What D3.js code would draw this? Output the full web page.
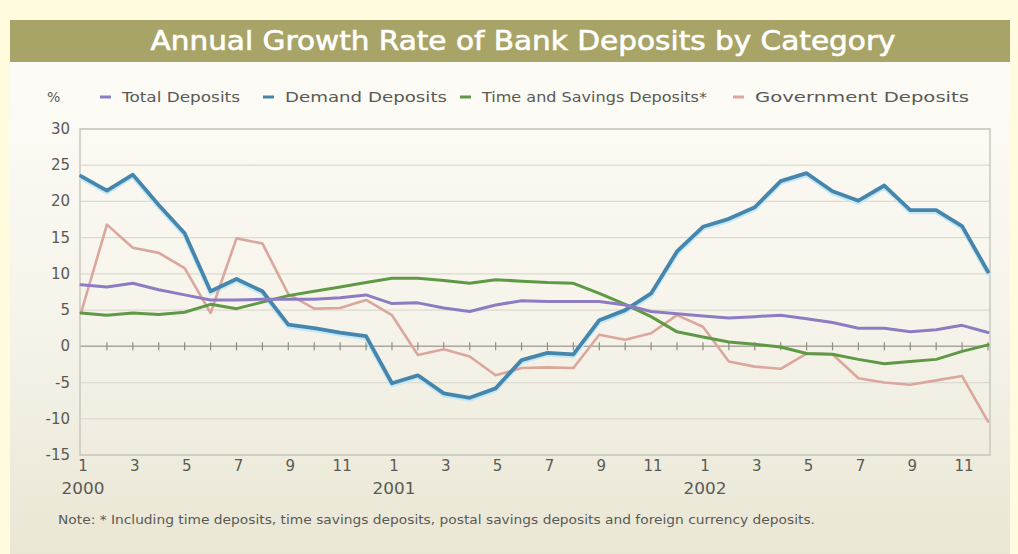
<!DOCTYPE html>
<html lang="en">
<head>
  <meta charset="UTF-8">
  <style>
    body { margin: 0; background: #fffbdf; }
    svg text { font-family: "DejaVu Sans", sans-serif; fill: #5a5a55; }
  </style>
</head>
<body>
  <svg class="chart"></svg>
  <script src="https://cdnjs.cloudflare.com/ajax/libs/d3/7.8.5/d3.min.js"></script>
  <script>
    // monthly values, Jan 2000 - Dec 2002
    const years = ['2000', '2001', '2002']
    const monthTicks = ['1', '3', '5', '7', '9', '11']

    const totalDeposits = [8.5, 8.2, 8.7, 7.8, 7.1, 6.4, 6.4, 6.5, 6.5, 6.5, 6.7, 7.1,
      5.9, 6.0, 5.3, 4.8, 5.7, 6.3, 6.2, 6.2, 6.2, 5.7, 4.8, 4.5,
      4.2, 3.9, 4.1, 4.3, 3.8, 3.3, 2.5, 2.5, 2.0, 2.3, 2.9, 1.9]
    const demandDeposits = [23.5, 21.5, 23.7, 19.5, 15.6, 7.6, 9.3, 7.6, 3.0, 2.5, 1.9, 1.4,
      -5.1, -4.0, -6.5, -7.1, -5.8, -1.9, -0.9, -1.1, 3.6, 5.0, 7.3, 13.1,
      16.5, 17.6, 19.2, 22.8, 23.9, 21.4, 20.1, 22.2, 18.8, 18.8, 16.6, 10.3]
    const timeSavingsDeposits = [4.6, 4.3, 4.6, 4.4, 4.7, 5.8, 5.2, 6.1, 7.0, 7.6, 8.2, 8.8,
      9.4, 9.4, 9.1, 8.7, 9.2, 9.0, 8.8, 8.7, 7.3, 5.8, 4.1, 2.0,
      1.3, 0.6, 0.3, -0.1, -1.0, -1.1, -1.8, -2.4, -2.1, -1.8, -0.7, 0.2]
    const governmentDeposits = [4.6, 16.8, 13.6, 12.9, 10.8, 4.6, 14.9, 14.2, 7.2, 5.2, 5.3, 6.4,
      4.3, -1.2, -0.4, -1.4, -4.0, -3.0, -2.9, -3.0, 1.6, 0.9, 1.8, 4.3,
      2.7, -2.1, -2.8, -3.1, -1.0, -1.1, -4.4, -5.0, -5.3, -4.7, -4.1, -10.4]

    const series = [
      { name: 'Total Deposits', values: totalDeposits, color: '#8e7cc3', width: 3 },
      { name: 'Demand Deposits', values: demandDeposits, color: '#4686ad', width: 3.8 },
      { name: 'Time and Savings Deposits*', values: timeSavingsDeposits, color: '#5f9945', width: 3 },
      { name: 'Government Deposits', values: governmentDeposits, color: '#dba79c', width: 2.6 }
    ]

    const months = []
    years.forEach(y => d3.range(1, 13).forEach(m => months.push(y + '-' + m)))

    const W = 1018, H = 554
    const plot = { left: 80, right: 990, top: 129, bottom: 455 }

    const svg = d3.select('.chart').attr('width', W).attr('height', H)
    const defs = svg.append('defs')

    const panelGrad = defs.append('linearGradient').attr('id', 'panel')
      .attr('x1', 0).attr('y1', 0).attr('x2', 0).attr('y2', 1)
    panelGrad.append('stop').attr('offset', '0%').attr('stop-color', '#fefdf8')
    panelGrad.append('stop').attr('offset', '60%').attr('stop-color', '#f5f3e9')
    panelGrad.append('stop').attr('offset', '100%').attr('stop-color', '#e9e6d4')

    // panel + title bar
    svg.append('rect').attr('x', 10).attr('y', 20).attr('width', 1000).attr('height', H - 20)
      .attr('fill', 'url(#panel)')
    svg.append('rect').attr('x', 10).attr('y', 20).attr('width', 1000).attr('height', 42)
      .attr('fill', '#a8a467')
    svg.append('text').attr('x', 523).attr('y', 50).attr('text-anchor', 'middle')
      .attr('textLength', 745).attr('lengthAdjust', 'spacingAndGlyphs')
      .style('fill', '#fff').style('stroke', '#fff').style('stroke-width', 0.6)
      .style('font-size', '26px')
      .text('Annual Growth Rate of Bank Deposits by Category')

    const x = d3.scalePoint().domain(months).range([81, 988])
    const y = d3.scaleLinear().domain([-15, 30]).range([plot.bottom, plot.top])

    // grid
    const yTicks = d3.range(-15, 31, 5)
    svg.append('g').selectAll('line').data(yTicks).join('line')
      .attr('x1', plot.left).attr('x2', plot.right)
      .attr('y1', d => y(d)).attr('y2', d => y(d))
      .attr('stroke', d => d === 0 ? '#a9a79c' : '#dcdad0')
      .attr('stroke-width', d => d === 0 ? 1.5 : 1.2)

    // frame
    svg.append('rect').attr('x', plot.left).attr('y', plot.top)
      .attr('width', plot.right - plot.left).attr('height', plot.bottom - plot.top)
      .attr('fill', 'none').attr('stroke', '#c9c8c0').attr('stroke-width', 1.5)

    // month ticks on zero line
    svg.append('g').selectAll('line').data(months.slice(1)).join('line')
      .attr('x1', d => x(d)).attr('x2', d => x(d))
      .attr('y1', y(0) - 4).attr('y2', y(0) + 4)
      .attr('stroke', '#8f8d84').attr('stroke-width', 1.2)

    // y axis labels
    svg.append('g').selectAll('text').data(yTicks).join('text')
      .attr('x', 70).attr('y', d => y(d) + 5).attr('text-anchor', 'end')
      .style('font-size', '15px').text(d => d)

    // x labels
    const labelled = months.filter(m => monthTicks.includes(m.split('-')[1]))
    svg.append('g').selectAll('text').data(labelled).join('text')
      .attr('x', d => x(d) + 2).attr('y', 471).attr('text-anchor', 'middle')
      .style('font-size', '15px').text(d => d.split('-')[1])
    svg.append('g').selectAll('text').data(years).join('text')
      .attr('x', d => x(d + '-1') + 2).attr('y', 494).attr('text-anchor', 'middle')
      .attr('textLength', 43).attr('lengthAdjust', 'spacingAndGlyphs')
      .style('font-size', '15px').text(d => d)

    // lines
    const line = d3.line().x((d, i) => x(months[i])).y(d => y(d))
    const lines = svg.append('g').attr('fill', 'none')
      .attr('stroke-linejoin', 'round').attr('stroke-linecap', 'round')
    // soft glow under the demand line
    lines.append('path').datum(demandDeposits).attr('d', line)
      .attr('transform', 'translate(0,1.8)')
      .attr('stroke', '#c6e8f4').attr('stroke-width', 4.5)
    series.slice().reverse().forEach(s => {
      lines.append('path').datum(s.values).attr('d', line)
        .attr('stroke', s.color).attr('stroke-width', s.width)
    })

    // legend
    svg.append('text').attr('x', 47).attr('y', 102).style('font-size', '14px').text('%')
    const legendX = [100, 263, 460, 733]
    const legendW = [118, 162, 225, 214]
    const legend = svg.append('g').selectAll('g').data(series).join('g')
      .attr('transform', (d, i) => `translate(${legendX[i]},97)`)
    legend.append('line').attr('x1', 0).attr('x2', 11)
      .attr('stroke', d => d.color).attr('stroke-width', 3)
    legend.append('text').attr('x', 22).attr('y', 5)
      .attr('textLength', (d, i) => legendW[i]).attr('lengthAdjust', 'spacingAndGlyphs')
      .style('font-size', '14px').text(d => d.name)

    // note
    svg.append('text').attr('x', 58).attr('y', 524).style('font-size', '12px')
      .attr('textLength', 757).attr('lengthAdjust', 'spacingAndGlyphs')
      .text('Note: * Including time deposits, time savings deposits, postal savings deposits and foreign currency deposits.')
  </script>
</body>
</html>
